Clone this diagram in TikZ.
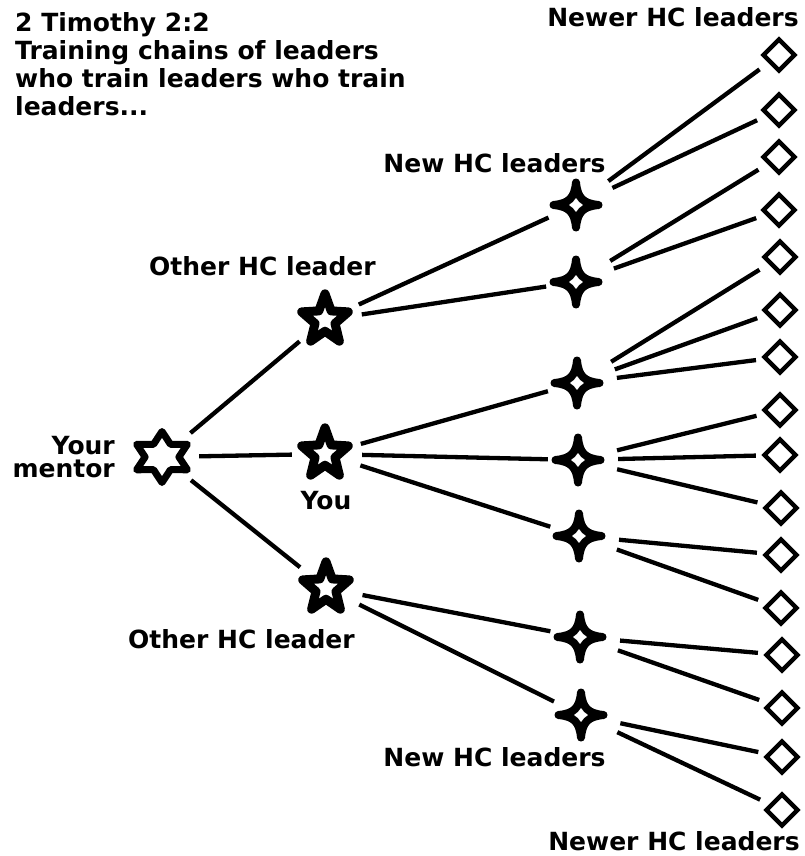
\documentclass[tikz,border=0pt]{standalone}
\usepackage{fontspec}
\setmainfont{DejaVu Sans}
\begin{document}
\begin{tikzpicture}[x=1pt,y=-1pt,
  pt/.style={circle,inner sep=0pt,minimum size=0pt},
  lbl/.style={font=\bfseries\fontsize{25}{28}\selectfont,inner sep=0pt},
  conn/.style={line width=4.3pt},
  c1/.style={conn,shorten <=37pt,shorten >=33pt},
  c2/.style={conn,shorten <=37pt,shorten >=30pt},
  c3/.style={conn,shorten <=40pt,shorten >=24pt},
  star5/.style={line width=9pt,line join=round,fill=white},
  star6/.style={line width=7pt,line join=round,fill=white},
  star4/.style={line width=8pt,line join=round,fill=white},
  dia/.style={line width=4.3pt,line join=miter,fill=white}]
\useasboundingbox (0,0) rectangle (804,856);

% hubs
\node[pt] (m) at (162,457) {};
\node[pt] (a) at (325,320) {};
\node[pt] (y) at (325,454) {};
\node[pt] (b) at (326,588) {};
\node[pt] (s1) at (576,205) {};
\node[pt] (s2) at (576,282) {};
\node[pt] (s3) at (577,383) {};
\node[pt] (s4) at (578,460) {};
\node[pt] (s5) at (579,536) {};
\node[pt] (s6) at (580,637) {};
\node[pt] (s7) at (581,715) {};
\node[pt] (d1) at (779,55) {};
\node[pt] (d2) at (779,110) {};
\node[pt] (d3) at (779,157) {};
\node[pt] (d4) at (779,210) {};
\node[pt] (d5) at (780,257) {};
\node[pt] (d6) at (780,310) {};
\node[pt] (d7) at (780,357) {};
\node[pt] (d8) at (780,410) {};
\node[pt] (d9) at (780,455) {};
\node[pt] (d10) at (781,508) {};
\node[pt] (d11) at (781,555) {};
\node[pt] (d12) at (781,608) {};
\node[pt] (d13) at (782,655) {};
\node[pt] (d14) at (782,708) {};
\node[pt] (d15) at (782,757) {};
\node[pt] (d16) at (782,810) {};

% connectors
\foreach \t in {a,y,b} \draw[c1] (m) -- (\t);
\foreach \t in {s1,s2} \draw[c2] (a) -- (\t);
\foreach \t in {s3,s4,s5} \draw[c2] (y) -- (\t);
\foreach \t in {s6,s7} \draw[c2] (b) -- (\t);
\foreach \f/\t in {s1/d1,s1/d2,s2/d3,s2/d4,s3/d5,s3/d6,s3/d7,s4/d8,s4/d9,s4/d10,s5/d11,s5/d12,s6/d13,s6/d14,s7/d15,s7/d16}
  \draw[c3] (\f) -- (\t);

% mentor hexagram
\begin{scope}[shift={(m)},y=1pt,xscale=1.15]
\draw[star6] (90:25.5) -- (120:14.7) -- (150:25.5) -- (180:14.7) -- (210:25.5) -- (240:14.7)
  -- (270:25.5) -- (300:14.7) -- (330:25.5) -- (0:14.7) -- (30:25.5) -- (60:14.7) -- cycle;
\end{scope}

% five-point stars
\foreach \n in {a,y,b}{
\begin{scope}[shift={(\n)},y=1pt,yscale=1.07]
\draw[star5] (90:24.5) -- (126:10.5) -- (162:24.5) -- (198:10.5) -- (234:24.5) -- (270:10.5)
  -- (306:24.5) -- (342:10.5) -- (18:24.5) -- (54:10.5) -- cycle;
\end{scope}}

% four-point stars
\foreach \n in {s1,s2,s3,s4,s5,s6,s7}{
\begin{scope}[shift={(\n)}]
\draw[star4] (0,22.5) .. controls (1.5,7) and (7,1.5) .. (22.5,0)
  .. controls (7,-1.5) and (1.5,-7) .. (0,-22.5)
  .. controls (-1.5,-7) and (-7,-1.5) .. (-22.5,0)
  .. controls (-7,1.5) and (-1.5,7) .. cycle;
\end{scope}}

% diamonds
\foreach \n in {d1,d2,d3,d4,d5,d6,d7,d8,d9,d10,d11,d12,d13,d14,d15,d16}{
\begin{scope}[shift={(\n)}]
\draw[dia] (0,-15.5) -- (15.5,0) -- (0,15.5) -- (-15.5,0) -- cycle;
\end{scope}}

% labels
\node[lbl,anchor=base west,align=left] (title) at (15,116)
  {2 Timothy 2:2\\Training chains of leaders\\who train leaders who train\\leaders...};
\node[lbl,anchor=base] (lnewer1) at (673,27) {Newer HC leaders};
\node[lbl,anchor=base] (lnew1) at (494.5,172) {New HC leaders};
\node[lbl,anchor=base] (lother1) at (262.5,275) {Other HC leader};
\node[lbl,anchor=base east,align=right,font=\bfseries\fontsize{25}{23}\selectfont] (lmentor) at (115,477) {Your\\mentor};
\node[lbl,anchor=base] (lyou) at (326,509) {You};
\node[lbl,anchor=base] (lother2) at (241.5,648) {Other HC leader};
\node[lbl,anchor=base] (lnew2) at (494.5,766) {New HC leaders};
\node[lbl,anchor=base] (lnewer2) at (674,850) {Newer HC leaders};
\end{tikzpicture}
\end{document}
